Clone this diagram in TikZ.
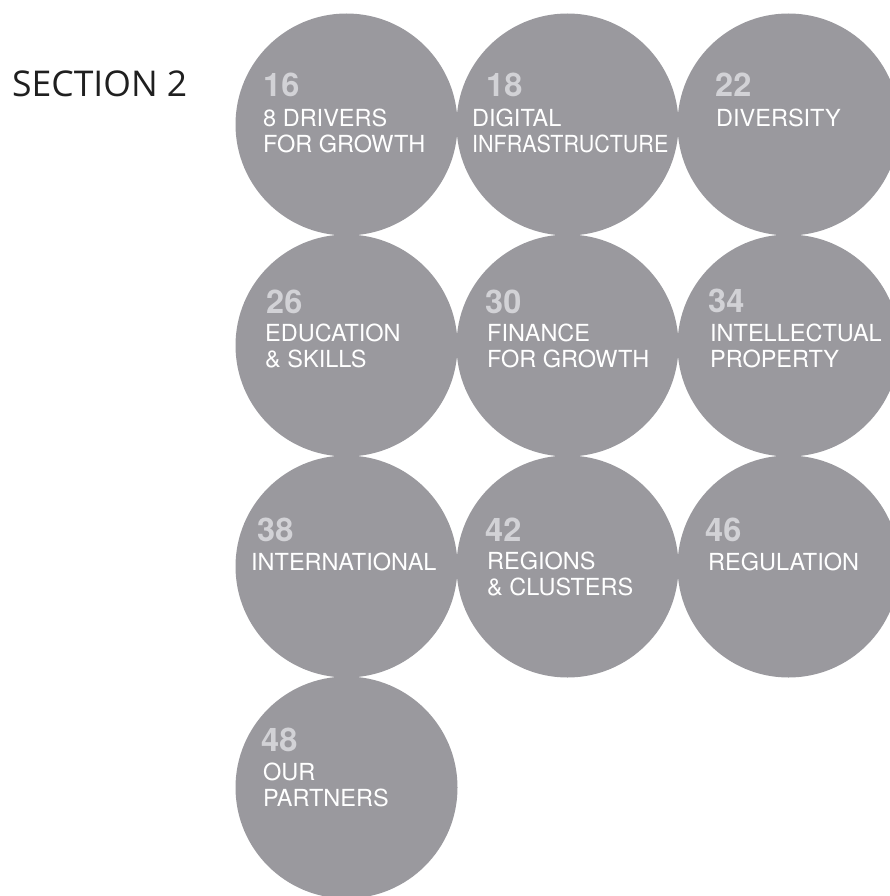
\documentclass[tikz,border=0pt]{standalone}
\usepackage{fontspec}
\setmainfont{TeX Gyre Heros}
\newfontfamily\headfont{Open Sans}
\definecolor{discgrey}{HTML}{9A999E}
\definecolor{pagegrey}{HTML}{D2D2D6}

\begin{document}
\begin{tikzpicture}[x=1pt, y=-1pt,
  disc/.style={circle, fill=discgrey, minimum size=222pt, inner sep=0pt},
  pagenum/.style={anchor=base west, inner sep=0pt, text=pagegrey, font=\fontsize{32.5}{32.5}\selectfont\bfseries},
  chapter/.style={anchor=base west, inner sep=0pt, text=white, align=left, font=\fontsize{23.5}{26}\selectfont}]
\clip (0,0) rectangle (890,896);
\useasboundingbox (0,0) rectangle (890,896);
\node[anchor=base west, inner sep=0pt, text=black!88, font=\headfont\fontsize{35.5}{35.5}\selectfont] (sec) at (12,97) {SECTION 2};
\foreach \i/\x/\y in {16/346.5/124.5, 18/567.5/124.5, 22/788.5/124.5,
  26/346.5/345.5, 30/567.5/345.5, 34/788.5/345.5,
  38/346.5/566.5, 42/567.5/566.5, 46/788.5/566.5, 48/346.5/787.5}{
\node[disc] (c\i) at (\x,\y) {};
}
\foreach \i/\x/\y in {16/263/97, 18/486/97, 22/715/97, 26/266/313, 30/485/313,
  34/708/312, 38/257/541, 42/485/541, 46/705/541, 48/261/751}{
\node[pagenum] (n\i) at (\x,\y) {\i};
}
\foreach \i/\x/\y/\t in {16/263/153/{8 DRIVERS\\FOR GROWTH},
  18/472/153/{DIGITAL\\\scalebox{0.915}[1]{INFRASTRUCTURE}}, 22/716/127/{DIVERSITY},
  26/265/367/{EDUCATION\\\& SKILLS}, 30/487/367/{FINANCE\\FOR GROWTH},
  34/710/367/{INTELLECTUAL\\PROPERTY}, 38/251/570/{INTERNATIONAL},
  42/487/595/{REGIONS\\\& CLUSTERS}, 46/708/570/{REGULATION},
  48/263/806/{OUR\\PARTNERS}}{
\node[chapter] (t\i) at (\x,\y) {\t};
}
\end{tikzpicture}
\end{document}
